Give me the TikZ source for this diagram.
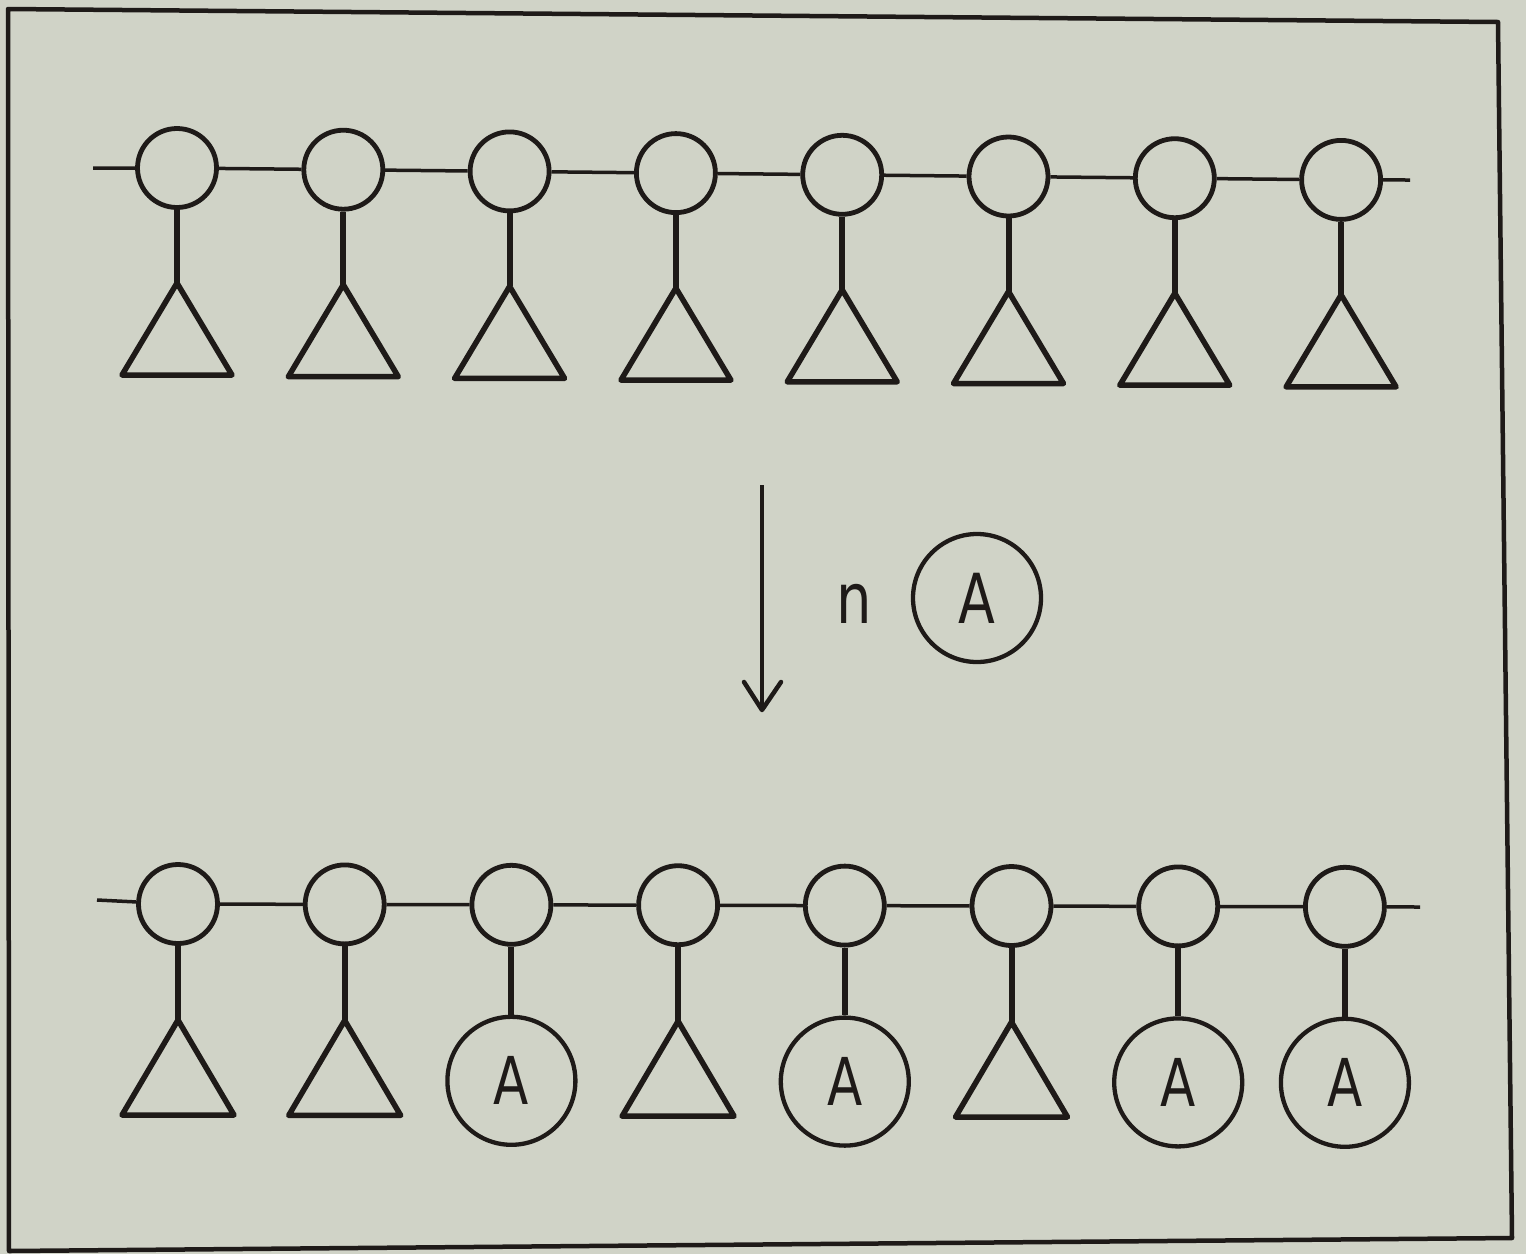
\documentclass[tikz,border=0pt]{standalone}
\usepackage{fontspec}
\setmainfont{DejaVu Sans}
\definecolor{bg}{RGB}{208,211,199}
\definecolor{ink}{RGB}{30,26,24}
\tikzset{
  small/.style={circle, draw=ink, line width=4.8pt, minimum size=79pt, inner sep=0pt},
  big/.style={circle, draw=ink, line width=4.3pt, minimum size=128pt, inner sep=0pt},
  chain/.style={draw=ink, line width=3.5pt},
  stem/.style={draw=ink, line width=6pt},
  tri/.style={draw=ink, line width=5.5pt, line join=round},
  frame/.style={draw=ink, line width=4.5pt, line join=round},
  shaft/.style={draw=ink, line width=3.4pt},
  barb/.style={draw=ink, line width=4.5pt, line cap=round, line join=round},
  letter/.style={inner sep=0pt, text=ink, font=\fontsize{66}{66}\selectfont},
}
\newcommand{\Aglyph}{\scalebox{0.78}[1]{A}}
\begin{document}
\begin{tikzpicture}[x=1pt,y=-1pt]
\fill[bg] (0,0) rectangle (1526,1254);
\useasboundingbox (0,0) rectangle (1526,1254);
% frame
\draw[frame] (8,9) -- (1498,22) -- (1512,1238) -- (9,1251) -- cycle;

% ---------- top row ----------
\foreach \i in {0,...,7} {
  \pgfmathsetmacro\xx{177+\i*166.3}
  \pgfmathsetmacro\yy{168+\i*1.7}
  \node[small] (t\i) at (\xx,\yy) {};
  \coordinate (ta\i) at (\xx,\yy+115);
  \draw[stem] (t\i.south) -- (ta\i);
  \draw[tri] (ta\i) -- ++(-55,92) -- ++(110,0) -- cycle;
}
\coordinate (tL) at (93,168);
\coordinate (tR) at (1410,180);
\draw[chain] (tL) -- (t0) -- (t1) -- (t2) -- (t3) -- (t4) -- (t5) -- (t6) -- (t7) -- (tR);

% ---------- arrow and reagent ----------
\coordinate (arT) at (762,485);
\coordinate (arB) at (762,710);
\draw[shaft] (arT) -- (arB);
\draw[barb] (arB) ++(-18,-28) -- (arB) -- ++(19,-28);
\node[letter, font=\fontsize{70}{70}\selectfont] (n) at (854,604) {\scalebox{0.8}[1]{n}};
\node[big, letter, font=\fontsize{69}{69}\selectfont] (rA) at (977,598) {\Aglyph};

% ---------- bottom row ----------
\foreach \i in {0,...,7} {
  \pgfmathsetmacro\xx{178+\i*166.7}
  \pgfmathsetmacro\yy{904+\i*0.4}
  \node[small] (b\i) at (\xx,\yy) {};
}
\coordinate (bL) at (97,900);
\coordinate (bR) at (1420,907);
\draw[chain] (bL) -- (b0) -- (b1) -- (b2) -- (b3) -- (b4) -- (b5) -- (b6) -- (b7) -- (bR);

\foreach \i in {0,1,3,5} {
  \path (b\i) ++(0,116) coordinate (ba\i);
  \draw[stem] (b\i.south) -- (ba\i);
  \draw[tri] (ba\i) -- ++(-56,95) -- ++(112,0) -- cycle;
}
\foreach \i in {2,4,6,7} {
  \path (b\i) ++(0,176) coordinate (bc\i);
  \node[big, letter] (a\i) at (bc\i) {\Aglyph};
  \draw[stem] (b\i.south) -- (a\i.north);
}
\end{tikzpicture}
\end{document}
